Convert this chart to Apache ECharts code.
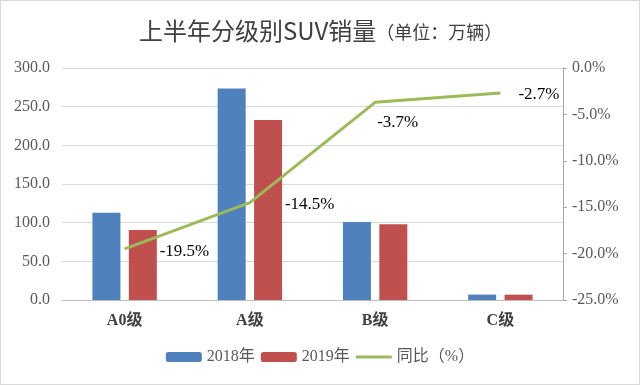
<!DOCTYPE html>
<html><head><meta charset="utf-8">
<script src="https://cdn.jsdelivr.net/npm/echarts@6/dist/echarts.min.js"></script>
<style>html,body{margin:0;padding:0;background:#fff}#c{width:638px;height:383px;border:1px solid #d9d9d9}</style>
</head><body><div id="c"></div>
<script>
const categories = ['A0级', 'A级', 'B级', 'C级'];
const sales2018 = [112.8, 273.6, 101.0, 7.0];
const sales2019 = [90.5, 232.8, 98.0, 6.9];
const yoy = [-19.5, -14.5, -3.7, -2.7];
const leftTicks = [0, 50, 100, 150, 200, 250, 300];
const rightTicks = [-25, -20, -15, -10, -5, 0];
const labelOffsets = [[35, 3], [35, 2], [2, 20], [18, 1]];

const serif = '"Liberation Serif", "Times New Roman", "Noto Sans CJK SC", serif';
const chart = echarts.init(document.getElementById('c'));
chart.setOption({
  animation: false,
  title: {
    text: '{a|上半年分级别SUV销量}{b|（单位：万辆）}',
    left: 133, top: 13,
    textStyle: {
      fontWeight: 'normal',
      rich: {
        a: {fontSize: 24, fontWeight: 'normal', color: '#404040', fontFamily: '"Noto Sans CJK SC", sans-serif'},
        b: {fontSize: 18, fontWeight: 'normal', color: '#404040', fontFamily: '"Noto Sans CJK SC", sans-serif', padding: [2, 0, 0, 0]}
      }
    }
  },
  grid: {left: 61, right: 76, top: 67, bottom: 84},
  legend: {
    bottom: 14, left: 'center',
    itemWidth: 36, itemHeight: 10, itemGap: 6,
    textStyle: {fontSize: 16, color: '#595959', fontFamily: serif},
    data: ['2018年', '2019年', {name: '同比（%）', icon: 'path://M0,0H35V3H0Z'}]
  },
  xAxis: {
    type: 'category', data: categories,
    axisLine: {lineStyle: {color: '#bfbfbf'}},
    axisTick: {show: false},
    axisLabel: {fontSize: 16, fontWeight: 'bold', color: '#404040', fontFamily: serif, margin: 13}
  },
  yAxis: [{
    type: 'value', min: 0, max: 300, interval: 50,
    axisLine: {show: false}, axisTick: {show: false},
    splitLine: {lineStyle: {color: '#d9d9d9'}},
    axisLabel: {fontSize: 16, color: '#595959', fontFamily: serif, margin: 12,
      formatter: v => leftTicks.includes(v) ? v.toFixed(1) : ''}
  }, {
    type: 'value', min: -25, max: 0, interval: 5,
    axisLine: {show: true, lineStyle: {color: '#a6a6a6'}},
    axisTick: {show: true, length: 4, lineStyle: {color: '#a6a6a6'}},
    splitLine: {show: false},
    axisLabel: {fontSize: 16, color: '#595959', fontFamily: serif, margin: 9,
      formatter: v => rightTicks.includes(v) ? v.toFixed(1) + '%' : ''}
  }],
  series: [{
    name: '2018年', type: 'bar', data: sales2018, barWidth: 28, barGap: '30%',
    itemStyle: {color: '#4F81BD'}
  }, {
    name: '2019年', type: 'bar', data: sales2019, barWidth: 28,
    itemStyle: {color: '#C0504D'}
  }, {
    name: '同比（%）', type: 'line', yAxisIndex: 1, symbol: 'circle', symbolSize: 0,
    lineStyle: {color: '#9BBB59', width: 3}, itemStyle: {color: '#9BBB59'},
    data: yoy.map((v, i) => ({
      value: v,
      label: {show: true, position: 'right', distance: 0,
        offset: labelOffsets[i],
        formatter: p => p.value.toFixed(1) + '%',
        fontSize: 17, color: '#000', fontFamily: serif}
    }))
  }]
});
</script></body></html>
